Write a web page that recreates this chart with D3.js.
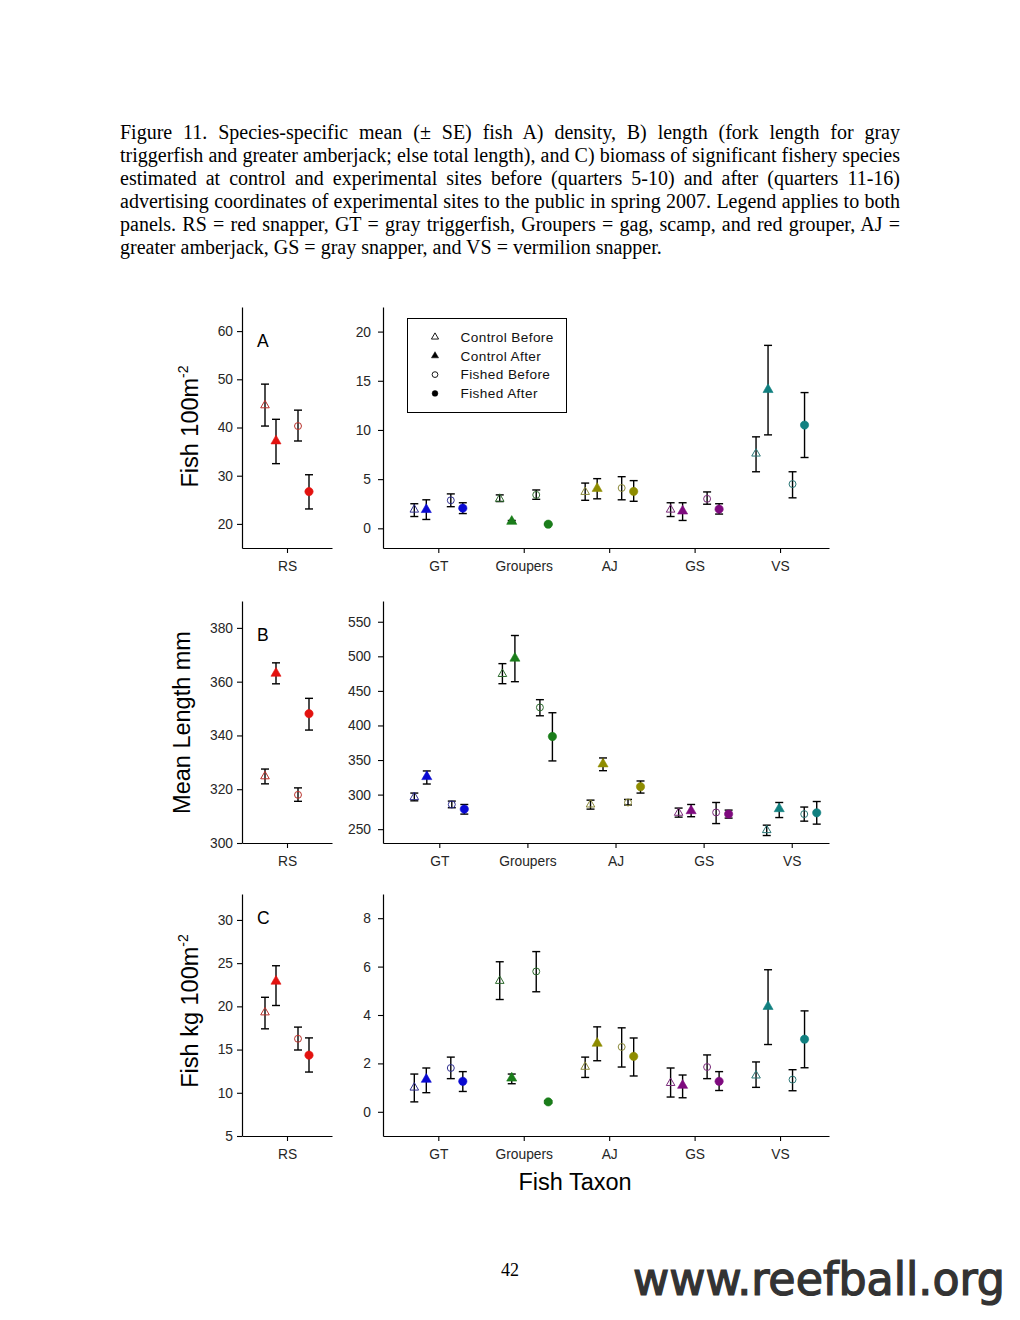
<!DOCTYPE html>
<html>
<head>
<meta charset="utf-8">
<script src="https://cdn.jsdelivr.net/npm/d3@7"></script>
<style>
  html, body { margin: 0; padding: 0; background: #fff; }
  svg { display: block; }
</style>
</head>
<body>
<svg id="chart" width="1020" height="1320"></svg>
<script>
// ---------------- DATA ----------------
const captionLines = [
  "Figure 11. Species-specific mean (\u00b1 SE) fish A) density, B) length (fork length for gray",
  "triggerfish and greater amberjack; else total length), and C) biomass of significant fishery species",
  "estimated at control and experimental sites before (quarters 5-10) and after (quarters 11-16)",
  "advertising coordinates of experimental sites to the public in spring 2007. Legend applies to both",
  "panels. RS = red snapper, GT = gray triggerfish, Groupers = gag, scamp, and red grouper, AJ =",
  "greater amberjack, GS = gray snapper, and VS = vermilion snapper."
];
const rsTaxon = ["RS"];
const taxa = ["GT", "Groupers", "AJ", "GS", "VS"];
const groups = ["Control Before", "Control After", "Fished Before", "Fished After"];

// A) density (fish per 100 m^2)
const rsDensMean = [44.6, 37.2, 40.3, 26.7];
const rsDensLo   = [40.3, 32.5, 37.2, 23.1];
const rsDensHi   = [49.0, 41.7, 43.6, 30.2];
const densMean = [[1.9, 1.9, 2.85, 2.05], [3.0, 0.7, 3.4, 0.42], [3.7, 4.05, 4.1, 3.75], [1.9, 1.75, 3.0, 1.95], [7.6, 14.1, 4.5, 10.5]];
const densLo   = [[1.2, 0.9, 2.2, 1.5], [2.72, 0.6, 2.95, 0.36], [2.85, 3.0, 2.9, 2.75], [1.2, 0.8, 2.45, 1.45], [5.75, 9.5, 3.1, 7.2]];
const densHi   = [[2.5, 2.9, 3.5, 2.6], [3.4, 0.8, 3.9, 0.48], [4.6, 5.05, 5.25, 4.85], [2.6, 2.6, 3.7, 2.5], [9.3, 18.6, 5.75, 13.8]];

// B) mean length (mm)
const rsLenMean = [324.8, 363.1, 317.9, 348.1];
const rsLenLo   = [322.0, 359.2, 315.5, 342.0];
const rsLenHi   = [327.5, 367.0, 320.5, 353.8];
const lenMean = [[296.4, 325.9, 285.7, 279.0], [474.4, 497.2, 426.1, 384.0], [285.7, 344.3, 288.6, 311.4], [273.7, 276.6, 274.2, 271.8], [248.6, 279.5, 271.8, 273.7]];
const lenLo   = [[291.0, 315.3, 281.0, 271.8], [460.4, 463.3, 414.0, 348.7], [279.0, 334.6, 285.0, 302.2], [267.4, 268.0, 258.1, 266.0], [240.8, 266.8, 261.6, 257.3]];
const lenHi   = [[302.2, 334.2, 290.6, 285.7], [489.4, 530.1, 437.3, 418.4], [292.0, 353.0, 293.0, 319.7], [280.5, 285.7, 288.6, 277.6], [255.8, 288.6, 282.0, 290.0]];

// C) biomass (kg per 100 m^2)
const rsBioMean = [19.3, 22.9, 16.25, 14.35];
const rsBioLo   = [17.4, 20.1, 14.95, 12.4];
const rsBioHi   = [21.05, 24.7, 17.6, 16.35];
const bioMean = [[1.0, 1.34, 1.81, 1.26], [5.41, 1.39, 5.8, 0.41], [1.86, 2.83, 2.68, 2.29], [1.19, 1.09, 1.85, 1.26], [1.5, 4.35, 1.33, 3.0]];
const bioLo   = [[0.41, 0.79, 1.37, 0.84], [4.64, 1.16, 4.96, 0.36], [1.42, 2.11, 1.85, 1.48], [0.61, 0.58, 1.37, 0.88], [1.01, 2.78, 0.87, 1.82]];
const bioHi   = [[1.56, 1.81, 2.26, 1.66], [6.2, 1.56, 6.62, 0.46], [2.26, 3.51, 3.47, 3.05], [1.81, 1.52, 2.35, 1.66], [2.06, 5.87, 1.74, 4.17]];

// tick values
const ticksDensRS = [20, 30, 40, 50, 60];
const ticksDens   = [0, 5, 10, 15, 20];
const ticksLenRS  = [300, 320, 340, 360, 380];
const ticksLen    = [250, 300, 350, 400, 450, 500, 550];
const ticksBioRS  = [5, 10, 15, 20, 25, 30];
const ticksBio    = [0, 2, 4, 6, 8];

// ---------------- STYLE ----------------
const rsColor = "#e3120f";
const rsOutline = "#b8302a";
const taxonColor   = ["#0a0ad2", "#1a7d1a", "#8e8c00", "#7e0a7e", "#118080"];
const taxonOutline = ["#303090", "#2d6a2d", "#8a8838", "#7a2a7a", "#2a7676"];
const sans = "Arial, 'Liberation Sans', Helvetica, sans-serif";
const serif = "'Times New Roman', 'Liberation Serif', serif";
const tickColor = "#262626";

const svg = d3.select("#chart");
svg.append("rect").attr("width", 1020).attr("height", 1320).attr("fill", "#fff");

// ---------------- CAPTION ----------------
const capX = 120, capW = 780, capY0 = 138.5, capLH = 23;
captionLines.forEach((line, i) => {
  const t = svg.append("text")
    .attr("x", capX).attr("y", capY0 + i * capLH)
    .attr("font-family", serif).attr("font-size", 20)
    .attr("fill", "#000")
    .style("white-space", "pre")
    .text(line);
  if (i < captionLines.length - 1) {
    const L = t.node().getComputedTextLength();
    const nSp = line.split(" ").length - 1;
    t.style("word-spacing", ((capW - L) / nSp) + "px");
  }
});

// ---------------- PANELS ----------------
const offsetsRS = [-22, -11, 11, 22];
const offsets = [-24, -12, 12.5, 24.5];

const symTri = d3.symbol().type(d3.symbolTriangle);
const symCir = d3.symbol().type(d3.symbolCircle);

function drawMarker(g, x, y, gi, fillCol, outCol) {
  const filled = (gi % 2 === 1);
  const isTri = gi < 2;
  const size = isTri ? (filled ? 44 : 32) : (filled ? 54 : 38);
  const p = g.append("path")
    .attr("transform", `translate(${x},${y})`)
    .attr("d", (isTri ? symTri : symCir).size(size)());
  if (filled) p.attr("fill", fillCol).attr("stroke", fillCol).attr("stroke-width", 0.6);
  else p.attr("fill", "none").attr("stroke", outCol).attr("stroke-width", 1);
}

function drawErr(g, x, yLo, yHi) {
  const cap = 4;
  g.append("line").attr("x1", x).attr("x2", x).attr("y1", yLo).attr("y2", yHi)
    .attr("stroke", "#000").attr("stroke-width", 1.4);
  [yLo, yHi].forEach(yy => g.append("line")
    .attr("x1", x - cap).attr("x2", x + cap).attr("y1", yy).attr("y2", yy)
    .attr("stroke", "#000").attr("stroke-width", 1.4));
}

function styleAxis(ax) {
  ax.selectAll("path.domain").attr("stroke", "#000").attr("stroke-width", 1.2);
  ax.selectAll(".tick line").attr("stroke", "#000").attr("stroke-width", 1.1);
  ax.selectAll(".tick text").attr("fill", tickColor).attr("font-family", sans).attr("font-size", 13.8);
}

function panel(opts) {
  const g = svg.append("g");
  const x = d3.scaleLinear().domain(opts.xDomain).range([opts.x0, opts.x1]);
  const y = d3.scaleLinear().domain(opts.yDomain).range([opts.y1, opts.y0]);

  const xa = g.append("g").attr("transform", `translate(0,${opts.y1})`)
    .call(d3.axisBottom(x).tickValues(opts.cats.map((c, i) => i + 1))
      .tickFormat((d) => opts.cats[d - 1]).tickSize(5).tickSizeOuter(0).tickPadding(8));
  styleAxis(xa);
  const ya = g.append("g").attr("transform", `translate(${opts.x0},0)`)
    .call(d3.axisLeft(y).tickValues(opts.ticks).tickSize(5).tickSizeOuter(0).tickPadding(opts.yPad));
  styleAxis(ya);

  const marks = g.append("g");
  opts.cats.forEach((c, ci) => {
    for (let gi = 0; gi < 4; gi++) {
      const cx = x(ci + 1) + opts.offs[gi];
      drawErr(marks, cx, y(opts.lo[ci][gi]), y(opts.hi[ci][gi]));
    }
    for (let gi = 0; gi < 4; gi++) {
      const cx = x(ci + 1) + opts.offs[gi];
      drawMarker(marks, cx, y(opts.mean[ci][gi]), gi, opts.colors[ci], opts.outlines[ci]);
    }
  });
  return g;
}

const leftX = [242, 332], rightX = [383, 829];
const rows = [[307, 548], [601, 843], [894, 1136]];
const domAC = [0.3527, 5.573], domB = [0.361, 5.423];

// Panel A
panel({ x0: leftX[0], x1: leftX[1], y0: rows[0][0], y1: rows[0][1], xDomain: [0.5, 1.5], yDomain: [15, 65],
  cats: rsTaxon, ticks: ticksDensRS, mean: [rsDensMean], lo: [rsDensLo], hi: [rsDensHi],
  offs: offsetsRS, colors: [rsColor], outlines: [rsOutline], yPad: 4 });
panel({ x0: rightX[0], x1: rightX[1], y0: rows[0][0], y1: rows[0][1], xDomain: domAC, yDomain: [-2, 22.5],
  cats: taxa, ticks: ticksDens, mean: densMean, lo: densLo, hi: densHi,
  offs: offsets, colors: taxonColor, outlines: taxonOutline, yPad: 7 });
// Panel B
panel({ x0: leftX[0], x1: leftX[1], y0: rows[1][0], y1: rows[1][1], xDomain: [0.5, 1.5], yDomain: [300, 390],
  cats: rsTaxon, ticks: ticksLenRS, mean: [rsLenMean], lo: [rsLenLo], hi: [rsLenHi],
  offs: offsetsRS, colors: [rsColor], outlines: [rsOutline], yPad: 4 });
panel({ x0: rightX[0], x1: rightX[1], y0: rows[1][0], y1: rows[1][1], xDomain: domB, yDomain: [230, 580],
  cats: taxa, ticks: ticksLen, mean: lenMean, lo: lenLo, hi: lenHi,
  offs: [-25, -12.5, 12.5, 25], colors: taxonColor, outlines: taxonOutline, yPad: 7 });
// Panel C
panel({ x0: leftX[0], x1: leftX[1], y0: rows[2][0], y1: rows[2][1], xDomain: [0.5, 1.5], yDomain: [5, 33],
  cats: rsTaxon, ticks: ticksBioRS, mean: [rsBioMean], lo: [rsBioLo], hi: [rsBioHi],
  offs: offsetsRS, colors: [rsColor], outlines: [rsOutline], yPad: 4 });
panel({ x0: rightX[0], x1: rightX[1], y0: rows[2][0], y1: rows[2][1], xDomain: domAC, yDomain: [-1, 9],
  cats: taxa, ticks: ticksBio, mean: bioMean, lo: bioLo, hi: bioHi,
  offs: offsets, colors: taxonColor, outlines: taxonOutline, yPad: 7 });

// Panel letters
[["A", 347], ["B", 641], ["C", 924]].forEach(([t, yy]) => {
  svg.append("text").attr("x", 257).attr("y", yy).attr("font-family", sans).attr("font-size", 17.5)
    .attr("fill", "#000").text(t);
});

// Y-axis titles
function yTitle(xb, yc, main, sup) {
  const t = svg.append("text").attr("transform", `translate(${xb},${yc}) rotate(-90)`)
    .attr("text-anchor", "middle").attr("font-family", sans).attr("font-size", 23.5).attr("fill", "#000");
  t.append("tspan").text(main);
  if (sup) t.append("tspan").attr("font-size", 14).attr("dy", -10).text(sup);
}
yTitle(198, 426.5, "Fish 100m", "-2");
yTitle(190, 722.5, "Mean Length mm", null);
yTitle(198, 1011, "Fish kg 100m", "-2");

// X title
svg.append("text").attr("x", 575).attr("y", 1190).attr("text-anchor", "middle")
  .attr("font-family", sans).attr("font-size", 23.5).attr("fill", "#000").text("Fish Taxon");

// Legend
const lg = svg.append("g");
lg.append("rect").attr("x", 407.5).attr("y", 318.5).attr("width", 159).attr("height", 94)
  .attr("fill", "#fff").attr("stroke", "#000").attr("stroke-width", 1);
groups.forEach((name, gi) => {
  const yy = 337 + gi * 18.8;
  const filled = gi % 2 === 1;
  const isTri = gi < 2;
  const p = lg.append("path").attr("transform", `translate(435,${yy})`)
    .attr("d", (isTri ? symTri : symCir).size(isTri ? 22 : 26)());
  if (filled) p.attr("fill", "#000").attr("stroke", "#000").attr("stroke-width", 0.5);
  else p.attr("fill", "none").attr("stroke", "#000").attr("stroke-width", 0.9);
  lg.append("text").attr("x", 460.5).attr("y", yy + 4.8).attr("font-family", sans)
    .attr("font-size", 13.6).attr("fill", "#111").style("letter-spacing", "0.4px").text(name);
});

// Page number
svg.append("text").attr("x", 510).attr("y", 1276).attr("text-anchor", "middle")
  .attr("font-family", serif).attr("font-size", 18).attr("fill", "#000").text("42");

// Watermark
svg.append("text").attr("x", 633).attr("y", 1295)
  .attr("font-family", "'DejaVu Sans Condensed', 'DejaVu Sans', sans-serif").attr("font-size", 46)
  .attr("fill", "#333").attr("stroke", "#333").attr("stroke-width", 1.2)
  .attr("textLength", 372).attr("lengthAdjust", "spacingAndGlyphs")
  .text("www.reefball.org");
</script>
</body>
</html>
